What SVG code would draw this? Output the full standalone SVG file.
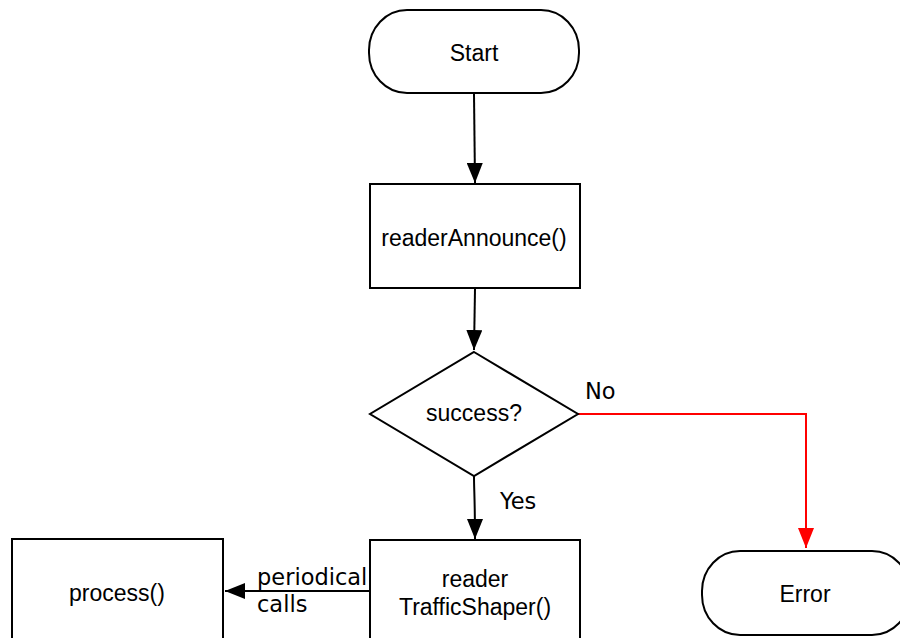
<svg xmlns="http://www.w3.org/2000/svg" width="900" height="638" viewBox="0 0 900 638">
  <style>
    .shape { fill: #ffffff; stroke: #000000; stroke-width: 2; }
    .node-text { font-family: "Liberation Sans", Arial, sans-serif; font-size: 23px; fill: #000000; text-anchor: middle; }
    .edge { fill: none; stroke: #000000; stroke-width: 2; }
    .edge-red { fill: none; stroke: #ff0000; stroke-width: 2; }
    .edge-label { font-family: "DejaVu Sans", sans-serif; font-size: 22.5px; fill: #000000; }
  </style>
  <defs>
    <marker id="arrow" viewBox="0 0 20 16" refX="20" refY="8" markerWidth="20" markerHeight="16" markerUnits="userSpaceOnUse" orient="auto">
      <path d="M0,0 L20,8 L0,16 Z" fill="#000000"/>
    </marker>
    <marker id="arrow-red" viewBox="0 0 20 16" refX="20" refY="8" markerWidth="20" markerHeight="16" markerUnits="userSpaceOnUse" orient="auto">
      <path d="M0,0 L20,8 L0,16 Z" fill="#ff0000"/>
    </marker>
  </defs>

  <!-- connectors -->
  <g id="connectors">
    <line class="edge" x1="474" y1="94" x2="475" y2="183" marker-end="url(#arrow)"/>
    <line class="edge" x1="475" y1="289" x2="474" y2="350" marker-end="url(#arrow)"/>
    <path class="edge" d="M474,476 C474,490 475,500 475,539" marker-end="url(#arrow)"/>
    <polyline class="edge-red" points="578,414 806,414 806,548" marker-end="url(#arrow-red)"/>
    <line class="edge" x1="370" y1="591" x2="225" y2="591" marker-end="url(#arrow)"/>
    <text class="edge-label" x="585" y="399">No</text>
    <text class="edge-label" x="500" y="509">Yes</text>
    <text class="edge-label" x="257" y="585">periodical</text>
    <text class="edge-label" x="257" y="612">calls</text>
  </g>

  <g id="start">
    <rect class="shape" x="369" y="10" width="210" height="83" rx="38" ry="40"/>
    <text class="node-text" x="474" y="61">Start</text>
  </g>

  <g id="readerAnnounce">
    <rect class="shape" x="370" y="184" width="210" height="104"/>
    <text class="node-text" x="474" y="246">readerAnnounce()</text>
  </g>

  <g id="success">
    <polygon class="shape" points="474,352 578,414 474,476 370,414"/>
    <text class="node-text" x="474" y="421">success?</text>
  </g>

  <g id="process">
    <rect class="shape" x="12" y="539" width="211" height="110"/>
    <text class="node-text" x="117" y="601">process()</text>
  </g>

  <g id="readerTrafficShaper">
    <rect class="shape" x="370" y="540" width="210" height="110"/>
    <text class="node-text" x="475" y="587">reader</text>
    <text class="node-text" x="475" y="615">TrafficShaper()</text>
  </g>

  <g id="error">
    <rect class="shape" x="702" y="551" width="208" height="84" rx="38" ry="40"/>
    <text class="node-text" x="805" y="602">Error</text>
  </g>
</svg>
